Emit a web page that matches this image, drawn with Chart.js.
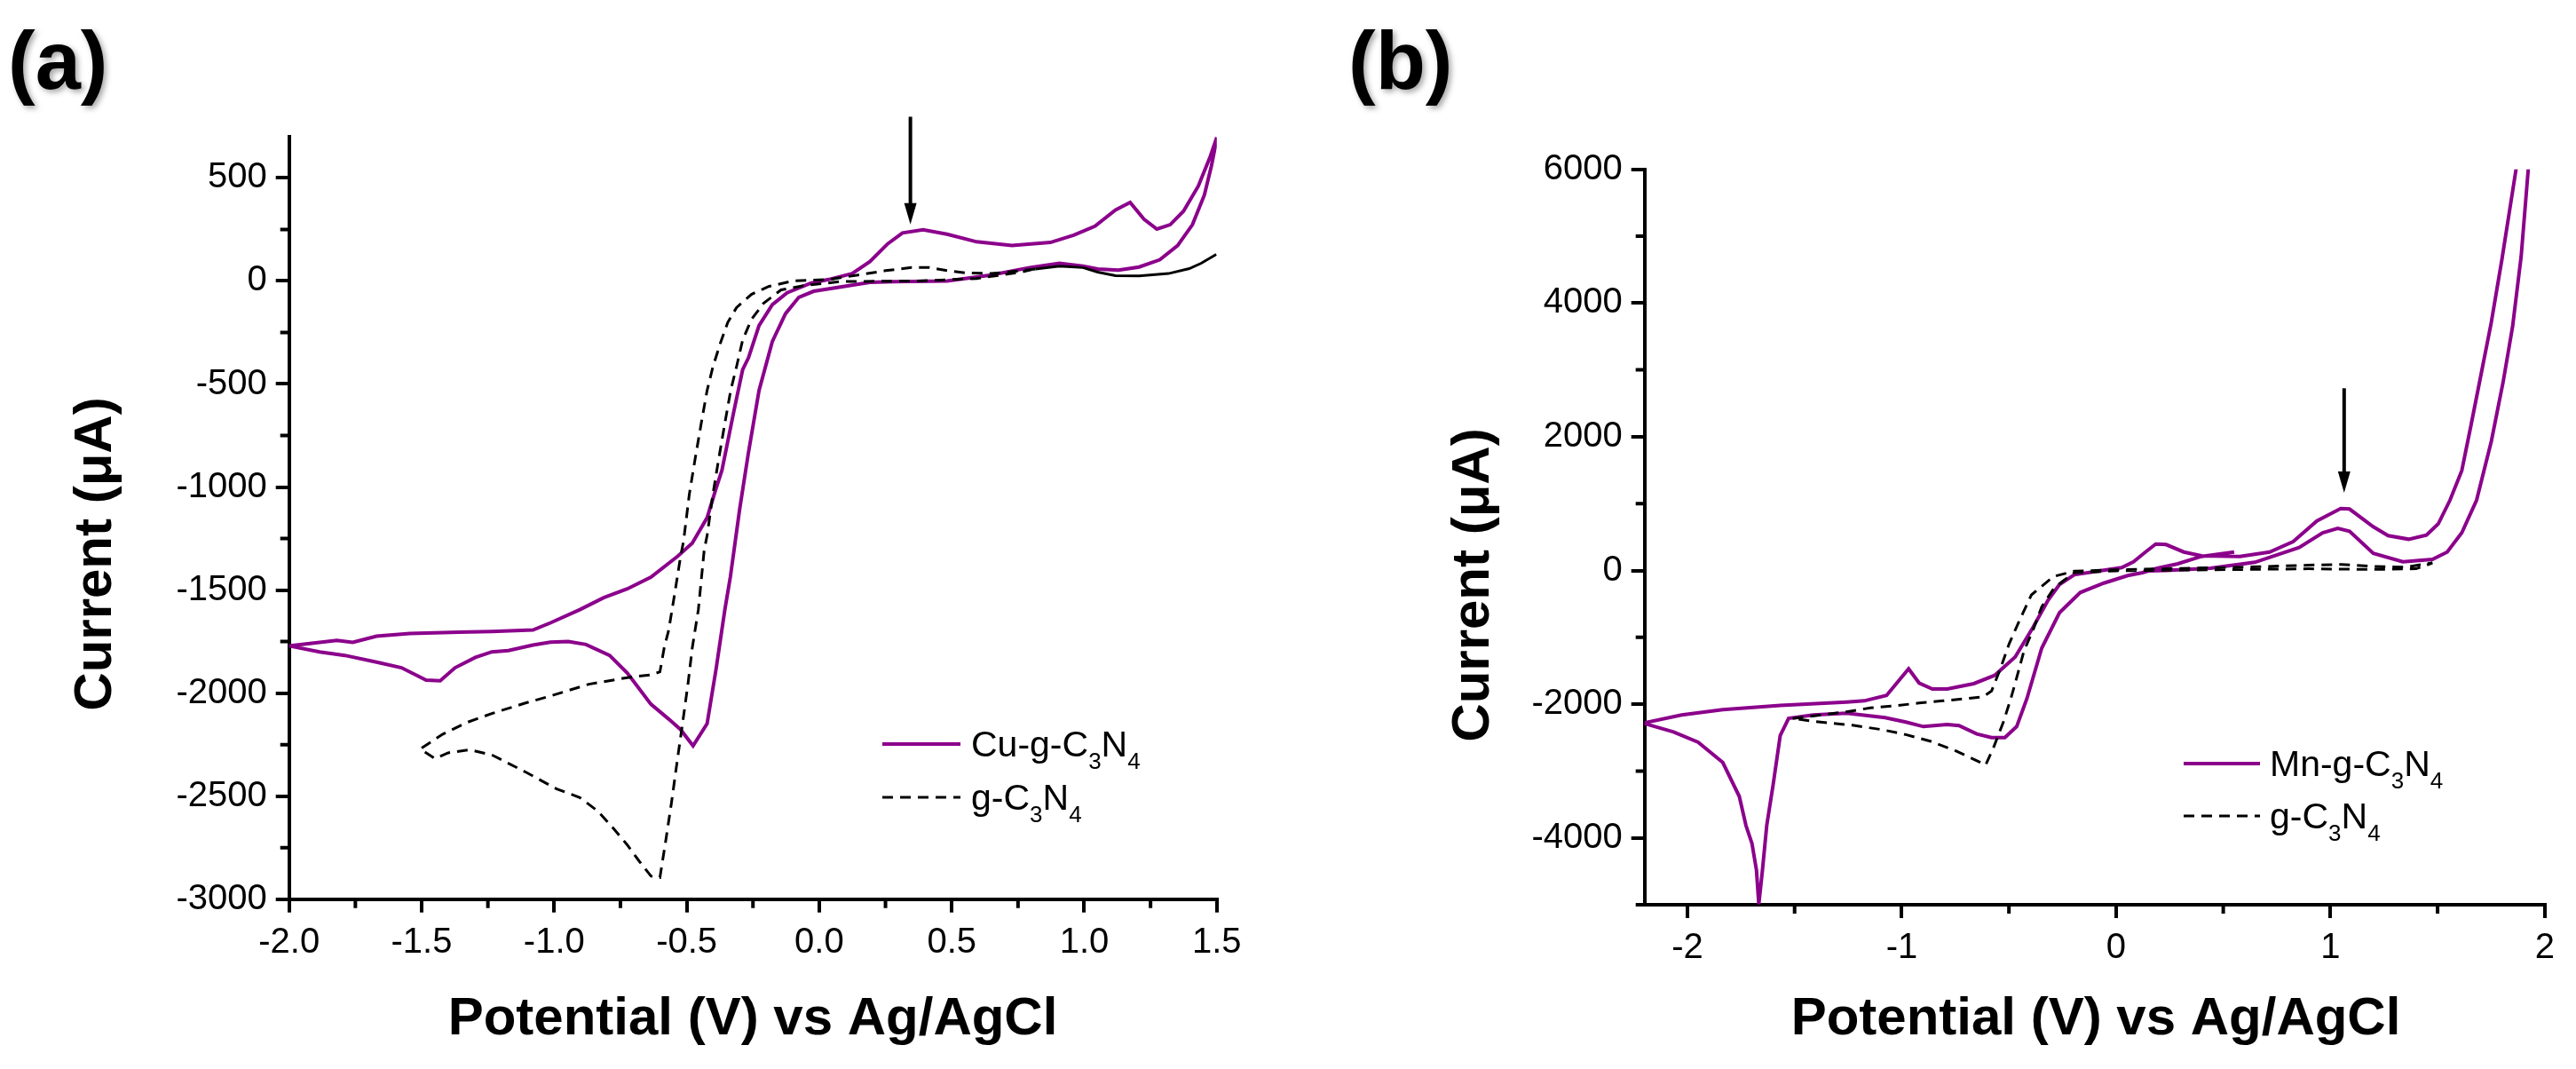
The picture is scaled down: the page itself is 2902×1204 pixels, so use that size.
<!DOCTYPE html>
<html>
<head>
<meta charset="utf-8">
<script src="https://cdn.jsdelivr.net/npm/chart.js@4.4.1/dist/chart.umd.min.js"></script>
<style>
  html, body { margin: 0; padding: 0; background: #fff; }
  #wrap { position: relative; width: 2902px; height: 1204px; }
  canvas { position: absolute; top: 0; }
  #ca { left: 0; }
  #cb { left: 1451px; }
</style>
</head>
<body>
<div id="wrap">
  <canvas id="ca" width="1451" height="1204"></canvas>
  <canvas id="cb" width="1451" height="1204"></canvas>
</div>
<script>
// ---- panel (a) : Cu-g-C3N4 vs g-C3N4 ----
const aXTicks = [-2.0, -1.5, -1.0, -0.5, 0.0, 0.5, 1.0, 1.5];
const aYTicks = [-3000, -2500, -2000, -1500, -1000, -500, 0, 500];

const cuV = [1.5, 1.475, 1.43, 1.374, 1.324, 1.274, 1.225, 1.173, 1.118, 1.04, 0.96, 0.872, 0.727, 0.594, 0.482, 0.392, 0.314, 0.258, 0.191, 0.124, 0.035,
  -0.032, -0.121, -0.177, -0.227, -0.267, -0.289, -0.322, -0.367, -0.389, -0.423, -0.479, -0.534, -0.635, -0.724, -0.813, -0.903, -1.014, -1.08, -1.235, -1.359, -1.545, -1.67, -1.76, -1.82, -2.0,
  -1.885, -1.79, -1.67, -1.576, -1.483, -1.43, -1.374, -1.297, -1.235, -1.173, -1.08, -1.014, -0.947, -0.88, -0.791, -0.724, -0.635, -0.568, -0.523, -0.476,
  -0.423, -0.389, -0.356, -0.335, -0.3, -0.267, -0.227, -0.177, -0.127, -0.077, -0.021, 0.08, 0.191, 0.28, 0.482, 0.649, 0.794, 0.906, 0.995, 1.051, 1.129, 1.207, 1.285, 1.352, 1.408, 1.453, 1.48, 1.5];
const cuI = [697, 603, 460, 338, 273, 252, 300, 381, 345, 266, 222, 187, 172, 190, 227, 249, 233, 180, 94, 36, 7,
  -11, -57, -115, -216, -373, -431, -632, -919, -1006, -1149, -1272, -1336, -1437, -1494, -1537, -1595, -1659, -1694, -1701, -1704, -1711, -1724, -1754, -1744, -1771,
  -1800, -1817, -1850, -1877, -1937, -1940, -1877, -1827, -1800, -1794, -1767, -1753, -1750, -1764, -1817, -1903, -2054, -2126, -2177, -2256,
  -2148, -1882, -1595, -1434, -1106, -833, -531, -294, -158, -79, -50, -29, -7, -3, 0, 29, 65, 86, 72, 58, 53, 68, 103, 172, 273, 417, 560, 690];

const gaV = [1.498, 1.441, 1.396, 1.318, 1.207, 1.118, 1.051, 0.995, 0.906, 0.816, 0.761, 0.649, 0.549, 0.482, 0.415, 0.348, 0.25, 0.147, 0.035,
  -0.099, -0.189, -0.256, -0.312, -0.345, -0.373, -0.401, -0.423, -0.445, -0.468, -0.49, -0.512, -0.523, -0.546, -0.568, -0.585, -0.601, -0.635, -0.724, -0.869, -1.014, -1.111, -1.235, -1.328, -1.42, -1.505,
  -1.45, -1.40, -1.32, -1.235, -1.111, -0.992, -0.903, -0.836, -0.78, -0.724, -0.679, -0.635, -0.601, -0.579, -0.557, -0.534, -0.518, -0.495, -0.479, -0.456, -0.434, -0.423,
  -0.401, -0.379, -0.356, -0.334, -0.312, -0.289, -0.256, -0.21, -0.144, -0.054, 0.08, 0.37, 0.594, 0.761, 0.80];
const gaI = [129, 86, 60, 36, 25, 26, 43, 65, 72, 58, 50, 36, 40, 50, 65, 65, 50, 29, 7,
  0, -26, -65, -129, -201, -302, -416, -531, -690, -862, -1034, -1264, -1336, -1523, -1695, -1781, -1897, -1911, -1925, -1957, -2014, -2049, -2099, -2142, -2199, -2271,
  -2318, -2290, -2275, -2300, -2381, -2464, -2507, -2572, -2651, -2737, -2816, -2888, -2895, -2716, -2528, -2313, -2169, -1954, -1781, -1595, -1307, -1235,
  -1034, -862, -690, -531, -416, -287, -187, -108, -43, -22, -3, 0, 12, 43, 55];

const arrowA = [0.344, 797, 274];   // potential, tail current, tip current

// ---- panel (b) : Mn-g-C3N4 vs g-C3N4 ----
const bXTicks = [-2, -1, 0, 1, 2];
const bYTicks = [-4000, -2000, 0, 2000, 4000, 6000];

const mnV = [0.15, 0.233, 0.44, 0.647, 0.854, 0.964, 1.034, 1.089, 1.2, 1.338, 1.476, 1.545, 1.613, 1.682, 1.751, 1.806, 1.85, 1.89, 1.923, 1.935,
  1.88, 1.866, 1.80, 1.75, 1.696, 1.655, 1.613, 1.558, 1.503, 1.448, 1.365, 1.269, 1.2, 1.089, 1.048, 0.937, 0.826, 0.716, 0.578, 0.398, 0.316, 0.233, 0.185, 0.137, 0.081, 0.026,
  -0.085, -0.195, -0.264, -0.319, -0.388, -0.471, -0.567, -0.664, -0.788, -0.857, -0.919, -0.968, -1.071, -1.175, -1.258, -1.567, -1.835, -2.027, -2.207,
  -2.065, -1.95, -1.835, -1.758, -1.727, -1.699, -1.678, -1.667, -1.65, -1.63, -1.60, -1.567, -1.528, -1.413, -1.258, -1.078, -0.981, -0.899, -0.788, -0.733, -0.65, -0.581, -0.519,
  -0.464, -0.416, -0.347, -0.264, -0.167, -0.057, 0.054, 0.123, 0.192, 0.288, 0.398, 0.551];
const mnI = [-5, 0, 33, 122, 343, 564, 631, 587, 255, 130, 166, 276, 564, 1052, 1936, 2822, 3650, 4700, 6000, 6300,
  6300, 6000, 4650, 3700, 2822, 2158, 1494, 1052, 697, 529, 467, 521, 653, 919, 927, 741, 432, 276, 210, 219, 276, 388, 396, 276, 130, 42,
  -11, -64, -210, -454, -853, -1295, -1570, -1693, -1773, -1773, -1684, -1471, -1870, -1950, -1968, -2020, -2081, -2162, -2284,
  -2416, -2568, -2872, -3380, -3815, -4083, -4482, -4990, -4482, -3815, -3200, -2467, -2213, -2162, -2135, -2202, -2268, -2335, -2304, -2321, -2446, -2499, -2499,
  -2335, -1915, -1162, -631, -329, -189, -77, -33, 33, 100, 210, 276];

const gbV = [-1.509, -1.40, -1.258, -1.147, -1.03, -0.919, -0.809, -0.692, -0.62, -0.581, -0.54, -0.499, -0.45, -0.395, -0.292, -0.195, 0.0, 0.3, 0.6, 0.9, 1.05, 1.2, 1.35, 1.476,
  1.40, 1.2, 0.9, 0.6, 0.3, 0.0, -0.195, -0.251, -0.292, -0.347, -0.388, -0.43, -0.46, -0.491, -0.526, -0.574, -0.609, -0.636, -0.754, -0.864, -0.981, -1.092, -1.23, -1.40, -1.509];
const gbI = [-2213, -2170, -2114, -2056, -2025, -1982, -1950, -1915, -1890, -1804, -1471, -1096, -741, -365, -90, -11, 10, 30, 50, 80, 90, 60, 50, 113,
  25, 15, 25, 15, 5, -5, -33, -166, -277, -542, -894, -1206, -1560, -1915, -2268, -2667, -2911, -2866, -2690, -2557, -2455, -2381, -2315, -2260, -2213];

const arrowB = [1.064, 2725, 1162];

// ---- drawing ----
const FONT = '"Liberation Sans", Arial, Helvetica, sans-serif';
const PURPLE = '#8b008b';
const DASH = [12, 8];
Chart.defaults.font.family = FONT;
Chart.defaults.color = '#000';

function pairs(vs, is) {
  return vs.map((v, k) => ({ x: v, y: is[k] }));
}

function chemText(ctx, text, x, base) {
  // digits after element symbols are written as subscripts
  const parts = text.split(/(\d)/);
  parts.forEach((s, k) => {
    if (!s) return;
    const sub = k % 2 === 1;
    ctx.font = (sub ? '26px ' : '41px ') + FONT;
    ctx.fillText(s, x, sub ? base + 14 : base);
    x += ctx.measureText(s).width;
  });
}

const decor = {
  id: 'decor',
  afterDraw(chart, args, o) {
    const ctx = chart.ctx;
    const xs = chart.scales.x, ys = chart.scales.y;
    const area = chart.chartArea;
    ctx.save();
    ctx.strokeStyle = '#000';
    ctx.fillStyle = '#000';
    ctx.lineWidth = 4;

    // minor ticks
    const minors = (scale, step, majors) => {
      const out = [];
      for (let k = Math.ceil(scale.min / step - 1e-9); k * step <= scale.max + 1e-9; k++) {
        const v = k * step;
        if (!majors.some(m => Math.abs(m - v) < 1e-9)) out.push(v);
      }
      return out;
    };
    ctx.beginPath();
    minors(xs, o.xMinor, o.xTicks).forEach(v => {
      const px = xs.getPixelForValue(v);
      ctx.moveTo(px, area.bottom);
      ctx.lineTo(px, area.bottom + 10);
    });
    minors(ys, o.yMinor, o.yTicks).forEach(v => {
      const py = ys.getPixelForValue(v);
      ctx.moveTo(area.left, py);
      ctx.lineTo(area.left - 10, py);
    });
    ctx.stroke();

    // arrow marking the oxidation peak
    const ax = xs.getPixelForValue(o.arrow[0]);
    const ay1 = ys.getPixelForValue(o.arrow[1]);
    const ay2 = ys.getPixelForValue(o.arrow[2]);
    ctx.beginPath();
    ctx.moveTo(ax, ay1);
    ctx.lineTo(ax, ay2 - 20);
    ctx.stroke();
    ctx.beginPath();
    ctx.moveTo(ax - 7, ay2 - 24);
    ctx.lineTo(ax + 7, ay2 - 24);
    ctx.lineTo(ax, ay2);
    ctx.closePath();
    ctx.fill();

    // legend
    const lg = o.legend;
    chart.data.datasets.slice().reverse().forEach((ds, k) => {
      const ly = lg.y[k];
      ctx.beginPath();
      ctx.strokeStyle = ds.borderColor;
      ctx.lineWidth = ds.borderWidth;
      ctx.setLineDash(ds.borderDash || []);
      ctx.moveTo(lg.x1, ly);
      ctx.lineTo(lg.x2, ly);
      ctx.stroke();
      ctx.setLineDash([]);
      ctx.textAlign = 'left';
      ctx.textBaseline = 'alphabetic';
      chemText(ctx, ds.label, lg.textX, ly + 14);
    });

    // axis titles
    ctx.fillStyle = '#000';
    ctx.font = 'bold 60px ' + FONT;
    ctx.textAlign = 'center';
    ctx.textBaseline = 'alphabetic';
    ctx.fillText(o.xTitle, o.xTitlePos[0], o.xTitlePos[1]);
    ctx.save();
    ctx.translate(o.yTitlePos[0], o.yTitlePos[1]);
    ctx.rotate(-Math.PI / 2);
    ctx.fillText(o.yTitle, 0, 0);
    ctx.restore();

    // panel letter
    ctx.save();
    ctx.shadowColor = 'rgba(0,0,0,0.35)';
    ctx.shadowBlur = 6;
    ctx.shadowOffsetX = 3;
    ctx.shadowOffsetY = 3;
    ctx.font = 'bold 92px ' + FONT;
    ctx.textAlign = 'left';
    ctx.fillText(o.panel, o.panelPos[0], o.panelPos[1]);
    ctx.restore();

    ctx.restore();
  }
};

function axis(min, max, ticks, fmt, fitFn) {
  return {
    type: 'linear',
    min: min,
    max: max,
    afterBuildTicks: s => { s.ticks = ticks.map(v => ({ value: v })); },
    afterFit: fitFn,
    ticks: { callback: fmt, font: { size: 40 }, color: '#000', padding: 10, autoSkip: false, maxRotation: 0 },
    grid: { drawOnChartArea: false, drawTicks: true, tickLength: 15, tickWidth: 4, tickColor: '#000', color: '#000', lineWidth: 4 },
    border: { display: true, color: '#000', width: 4 }
  };
}

function build(id, p) {
  return new Chart(document.getElementById(id), {
    type: 'scatter',
    data: {
      datasets: [
        {
          label: p.refLabel,
          data: pairs(p.refV, p.refI),
          showLine: true, pointRadius: 0, borderColor: '#000', borderWidth: 3, borderDash: DASH,
          segment: {
            borderDash: s => (p.solidFrom !== null && s.p0.parsed.x >= p.solidFrom && s.p1.parsed.x >= p.solidFrom) ? [] : DASH
          }
        },
        {
          label: p.dopedLabel,
          data: pairs(p.dopedV, p.dopedI),
          showLine: true, pointRadius: 0, borderColor: PURPLE, borderWidth: 4
        }
      ]
    },
    options: {
      responsive: false,
      animation: false,
      devicePixelRatio: 1,
      layout: { padding: { left: 0, top: p.top, right: p.right, bottom: 0 } },
      plugins: {
        legend: { display: false },
        tooltip: { enabled: false },
        decor: p.decor
      },
      scales: {
        x: axis(p.xMin, p.xMax, p.xTicks, p.xFmt, s => { s.height = p.bottomH; }),
        y: axis(p.yMin, p.yMax, p.yTicks, v => String(v), s => { s.width = p.leftW; })
      }
    },
    plugins: [decor]
  });
}

build('ca', {
  refLabel: 'g-C3N4', refV: gaV, refI: gaI, solidFrom: 0.81,
  dopedLabel: 'Cu-g-C3N4', dopedV: cuV, dopedI: cuI,
  xMin: -2.0, xMax: 1.5, xTicks: aXTicks, xFmt: v => v.toFixed(1),
  yMin: -3000, yMax: 700, yTicks: aYTicks,
  top: 154, right: 80.2, bottomH: 191.3, leftW: 325.7,
  decor: {
    xMinor: 0.25, yMinor: 250, xTicks: aXTicks, yTicks: aYTicks, arrow: arrowA,
    legend: { x1: 994, x2: 1082, y: [838, 898], textX: 1094 },
    xTitle: 'Potential (V) vs Ag/AgCl', xTitlePos: [848, 1165],
    yTitle: 'Current (\u03bcA)', yTitlePos: [125, 624],
    panel: '(a)', panelPos: [9, 100]
  }
});

build('cb', {
  refLabel: 'g-C3N4', refV: gbV, refI: gbI, solidFrom: null,
  dopedLabel: 'Mn-g-C3N4', dopedV: mnV, dopedI: mnI,
  xMin: -2.2, xMax: 2, xTicks: bXTicks, xFmt: v => String(v),
  yMin: -5000, yMax: 6000, yTicks: bYTicks,
  top: 190.7, right: 35.2, bottomH: 185, leftW: 401.7,
  decor: {
    xMinor: 0.5, yMinor: 1000, xTicks: bXTicks, yTicks: bYTicks, arrow: arrowB,
    legend: { x1: 1009, x2: 1095, y: [860, 919], textX: 1106 },
    xTitle: 'Potential (V) vs Ag/AgCl', xTitlePos: [910, 1165],
    yTitle: 'Current (\u03bcA)', yTitlePos: [226, 659],
    panel: '(b)', panelPos: [68, 100]
  }
});
</script>
</body>
</html>
